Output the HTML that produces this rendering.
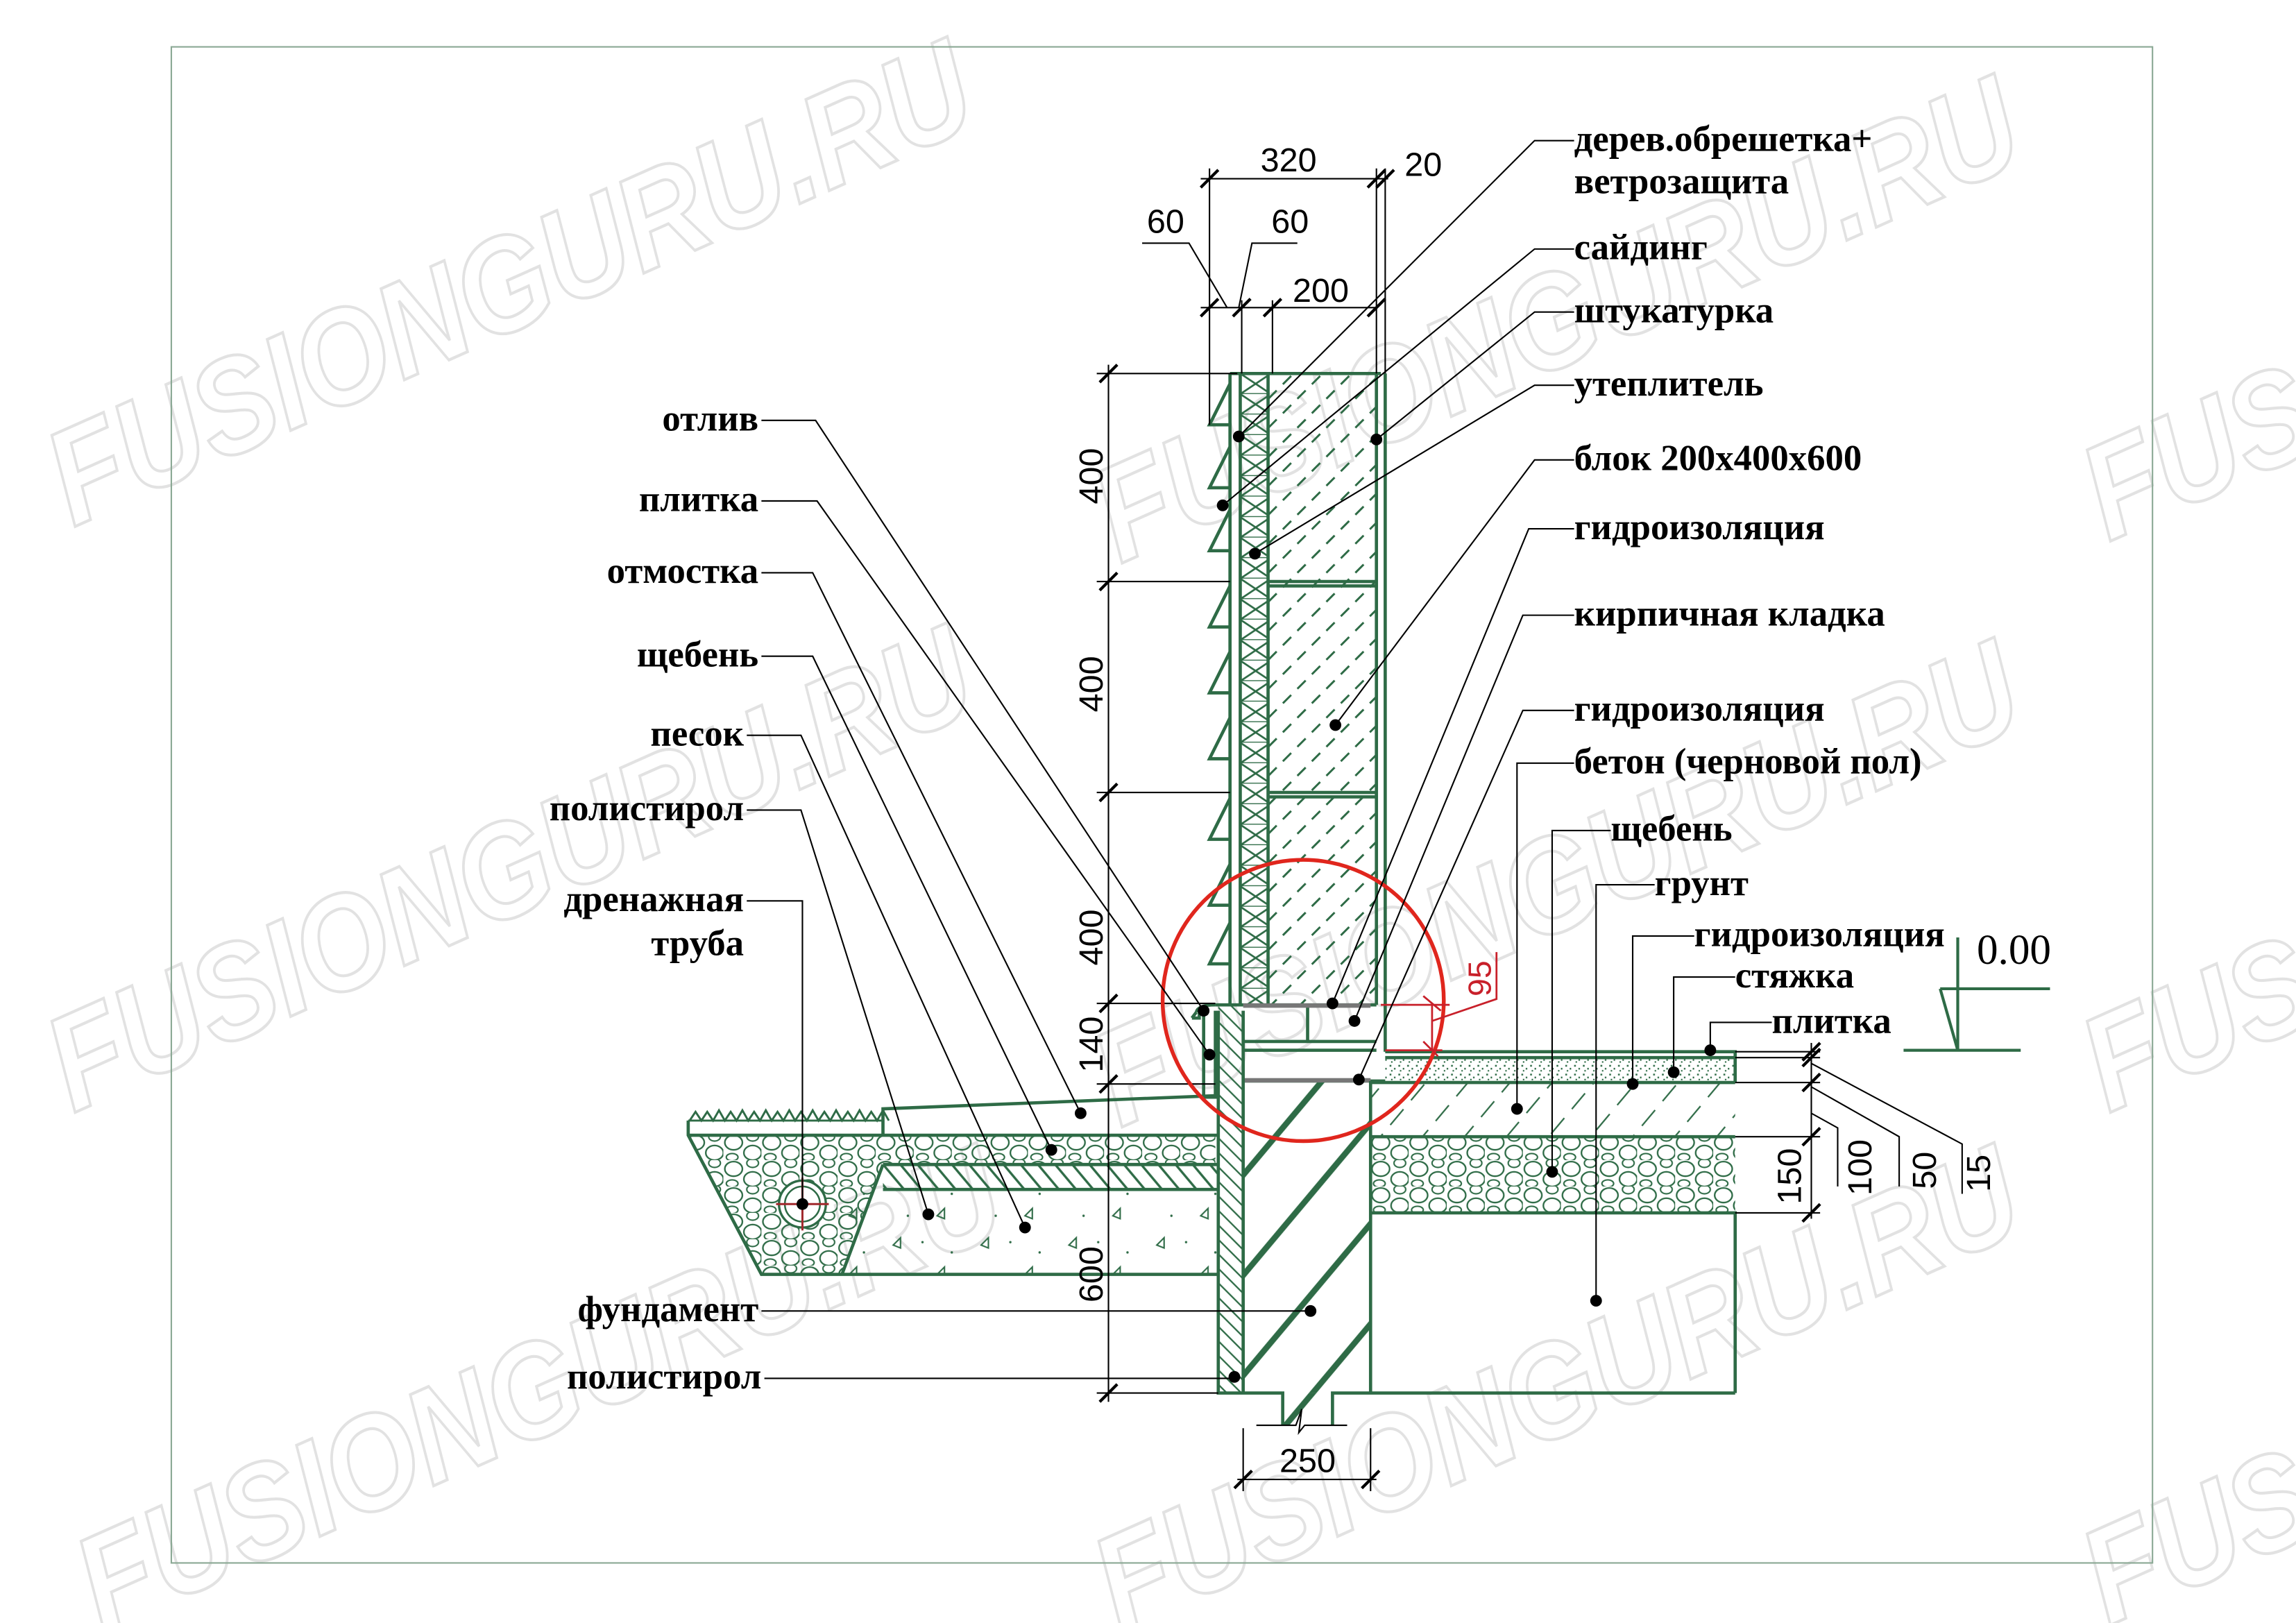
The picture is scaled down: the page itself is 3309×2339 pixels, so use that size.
<!DOCTYPE html>
<html><head><meta charset="utf-8"><style>
html,body{margin:0;padding:0;background:#fff;}
svg{display:block;}
.lb{font-family:"Liberation Serif","Noto Serif CJK SC",serif;font-size:25px;font-weight:bold;fill:#000;}
.dm{font-family:"Liberation Sans",sans-serif;font-size:23px;fill:#000;}
.wm{font-family:"Liberation Sans",sans-serif;font-size:92px;font-weight:bold;font-style:italic;fill:#fff;stroke:#e2e2e2;stroke-width:2;}
.g{stroke:#2e6b46;fill:none;stroke-width:2.2;}
.k{stroke:#000;fill:none;stroke-width:1;}
</style></head><body>
<svg width="3309" height="2339" viewBox="0 0 1568 1108" preserveAspectRatio="none" xmlns="http://www.w3.org/2000/svg">
<defs>
<pattern id="blk" width="14" height="14" patternUnits="userSpaceOnUse" patternTransform="rotate(-45)">
<line x1="0" y1="7" x2="8" y2="7" stroke="#2e6b46" stroke-width="1.4"/>
</pattern>
<pattern id="ins" width="21" height="14" patternUnits="userSpaceOnUse" x="847" y="255">
<path d="M0 0L21 14M21 0L0 14M0 14H21" stroke="#2e6b46" stroke-width="1.3" fill="none"/>
</pattern>
<pattern id="fnd" width="44" height="44" patternUnits="userSpaceOnUse" patternTransform="rotate(-50)">
<line x1="0" y1="22" x2="44" y2="22" stroke="#2e6b46" stroke-width="4"/>
</pattern>
<pattern id="pst" width="7" height="7" patternUnits="userSpaceOnUse" patternTransform="rotate(45)">
<line x1="0" y1="3" x2="7" y2="3" stroke="#2e6b46" stroke-width="1.1"/>
</pattern>
<pattern id="pst2" width="9" height="9" patternUnits="userSpaceOnUse" patternTransform="rotate(50)">
<line x1="0" y1="4" x2="9" y2="4" stroke="#2e6b46" stroke-width="1.6"/>
</pattern>
<pattern id="con" width="22" height="22" patternUnits="userSpaceOnUse" patternTransform="rotate(-50)">
<line x1="0" y1="11" x2="14" y2="11" stroke="#2e6b46" stroke-width="1.1"/>
</pattern>
<pattern id="grv" width="26" height="18" patternUnits="userSpaceOnUse">
<ellipse cx="7" cy="6" rx="6" ry="5" fill="none" stroke="#2e6b46" stroke-width="1.1"/>
<ellipse cx="20" cy="13" rx="6" ry="5" fill="none" stroke="#2e6b46" stroke-width="1.1"/>
<ellipse cx="20" cy="2" rx="4" ry="3" fill="none" stroke="#2e6b46" stroke-width="1"/>
<ellipse cx="6" cy="16" rx="4" ry="2.5" fill="none" stroke="#2e6b46" stroke-width="1"/>
</pattern>
<pattern id="scr" width="6" height="6" patternUnits="userSpaceOnUse">
<rect x="1" y="1" width="1.2" height="1.2" fill="#2e6b46"/><rect x="4" y="3" width="1" height="1.2" fill="#2e6b46"/><rect x="2" y="4.5" width="1" height="1" fill="#2e6b46"/>
</pattern>
<pattern id="snd" width="60" height="40" patternUnits="userSpaceOnUse">
<path d="M10 10l5 -5v7z M40 30l5 -5v7z" fill="none" stroke="#2e6b46" stroke-width="1"/>
<circle cx="30" cy="8" r=".8" fill="#2e6b46"/><circle cx="50" cy="15" r=".8" fill="#2e6b46"/><circle cx="20" cy="30" r=".8" fill="#2e6b46"/>
</pattern>
</defs>
<rect width="1568" height="1108" fill="#fff"/>

<g class="wm">
<text transform="translate(50,360) rotate(-24)" textLength="680" lengthAdjust="spacingAndGlyphs">FUSIONGURU.RU</text>
<text transform="translate(765,385) rotate(-24)" textLength="680" lengthAdjust="spacingAndGlyphs">FUSIONGURU.RU</text>
<text transform="translate(50,760) rotate(-24)" textLength="680" lengthAdjust="spacingAndGlyphs">FUSIONGURU.RU</text>
<text transform="translate(765,770) rotate(-24)" textLength="680" lengthAdjust="spacingAndGlyphs">FUSIONGURU.RU</text>
<text transform="translate(70,1115) rotate(-24)" textLength="680" lengthAdjust="spacingAndGlyphs">FUSIONGURU.RU</text>
<text transform="translate(765,1115) rotate(-24)" textLength="680" lengthAdjust="spacingAndGlyphs">FUSIONGURU.RU</text>
<text transform="translate(1440,370) rotate(-24)" textLength="680" lengthAdjust="spacingAndGlyphs">FUSIONGURU.RU</text>
<text transform="translate(1440,760) rotate(-24)" textLength="680" lengthAdjust="spacingAndGlyphs">FUSIONGURU.RU</text>
<text transform="translate(1440,1110) rotate(-24)" textLength="680" lengthAdjust="spacingAndGlyphs">FUSIONGURU.RU</text>
</g>

<rect x="117" y="32" width="1353" height="1035" fill="none" stroke="#8aa894" stroke-width="1"/>

<rect x="866" y="255" width="74" height="431" fill="url(#blk)"/>
<rect x="847" y="255" width="19" height="431" fill="url(#ins)"/>
<g class="g">
<path d="M840 255H943M847 255V686M866 255V686M940 255V686M946 255V718M840 255V686"/>
<path d="M866 397H940M866 400H940M866 541H940M866 544H940"/>
<path d="M840 262L826 290H840M840 305L826 333H840M840 348L826 376H840M840 400L826 428H840M840 445L826 473H840M840 490L826 518H840M840 545L826 573H840M840 590L826 618H840M840 630L826 658H840"/>
</g>
<g class="g">
<path d="M849 686H940M849 711H940M849 717H940M849 738H946M893 686V711"/>
<path d="M830 686H849" />
<path d="M817 691Q818 686 830 686M814 695H819V690M817 691L814 695M822 690V749H830V690"/>
</g>
<rect x="849" y="736" width="87" height="3" fill="#777"/>
<rect x="849" y="685" width="87" height="3" fill="#777"/>

<rect x="849" y="739" width="87" height="212" fill="url(#fnd)"/>
<rect x="876" y="951" width="34" height="22" fill="url(#fnd)"/>
<rect x="832" y="739" width="17" height="212" fill="url(#pst)"/>
<rect x="832" y="686" width="17" height="53" fill="url(#pst)"/>
<g class="g">
<path d="M832 690V951H876V973M910 973V951H1185M849 690V951M936 738V951"/>
</g>
<path d="M858 973H885L889 962L887 978L891 973H920" class="k"/>

<rect x="946" y="723" width="239" height="16" fill="url(#scr)"/>
<rect x="936" y="739" width="249" height="37" fill="url(#con)"/>
<rect x="936" y="776" width="249" height="52" fill="url(#grv)"/>
<g class="g">
<path d="M946 718H1185V739M946 722H1185M936 739H1185M936 776H1185M936 828H1185V951"/>
</g>

<path d="M470 775L520 870H575L603 795H830V775Z" fill="url(#grv)"/>
<rect x="603" y="795" width="229" height="17" fill="url(#pst2)"/>
<rect x="575" y="812" width="257" height="58" fill="url(#snd)"/>
<g class="g">
<path d="M470 765V775L520 870H832M470 775H832M603 795H832M603 812H832M603 795L575 870M603 775V757L830 748"/>
<path d="M470 765H603M471 765l4-6l4 6l4-6l4 6l4-7l4 7l4-6l4 6l4-7l4 7l4-6l4 6l4-7l4 7l4-6l4 6l4-7l4 7l4-6l4 6l4-7l4 7l4-6l4 6l4-7l4 7l4-6l4 6l4-7l4 7l4-6l4 6l4-7l4 7" stroke-width="1.4"/>
</g>
<circle cx="548" cy="822" r="16" fill="#fff" stroke="#2e6b46" stroke-width="1.6"/>
<circle cx="548" cy="822" r="12" fill="none" stroke="#2e6b46" stroke-width="1.2"/>
<path d="M530 822H566M548 804V840" stroke="#a0282c" stroke-width="1.4"/>

<g class="k">
<path d="M757 249V957"/>
<path d="M749 255H845M749 397H840M749 541H840M749 685H830M749 740H830M749 951H832M757 684V690"/>
<path d="M751 261l12 -12M751 403l12 -12M751 547l12 -12M751 691l12 -12M751 746l12 -12M751 957l12 -12" stroke-width="2"/>
</g>
<g class="dm">
<text transform="translate(753,325) rotate(-90)" text-anchor="middle">400</text>
<text transform="translate(753,467) rotate(-90)" text-anchor="middle">400</text>
<text transform="translate(753,640) rotate(-90)" text-anchor="middle">400</text>
<text transform="translate(753,713) rotate(-90)" text-anchor="middle">140</text>
<text transform="translate(753,870) rotate(-90)" text-anchor="middle">600</text>
</g>

<g class="k">
<path d="M826 115V290M940 115V255M946 115V255M820 122H948M848 205V255M869 205V255M780 166H812L838 210M820 210H940M846 210L855 166H886"/>
<path d="M820 128l12 -12M934 128l12 -12M940 128l12 -12M820 216l12 -12M842 216l12 -12M863 216l12 -12M934 216l12 -12" stroke-width="2"/>
</g>
<g class="dm">
<text x="880" y="117" text-anchor="middle">320</text>
<text x="972" y="120" text-anchor="middle">20</text>
<text x="796" y="159" text-anchor="middle">60</text>
<text x="881" y="159" text-anchor="middle">60</text>
<text x="902" y="206" text-anchor="middle">200</text>
</g>

<g class="k">
<path d="M849 975V1018M936 975V1018M845 1010H940"/>
<path d="M843 1016l12 -12M930 1016l12 -12" stroke-width="2"/>
</g>
<text x="893" y="1005" class="dm" text-anchor="middle">250</text>

<g class="k">
<path d="M1185 718H1243M1185 722H1243M1185 739H1243M1185 776H1243M1185 828H1243M1237 712V832"/>
<path d="M1231 724l12 -12M1231 728l12 -12M1231 745l12 -12M1231 782l12 -12M1231 834l12 -12" stroke-width="2"/>
<path d="M1237 760L1255 770V810M1237 742L1297 776V810M1237 726L1340 781V815"/>
</g>
<g class="dm">
<text transform="translate(1230,803) rotate(-90)" text-anchor="middle">150</text>
<text transform="translate(1278,797) rotate(-90)" text-anchor="middle">100</text>
<text transform="translate(1322,799) rotate(-90)" text-anchor="middle">50</text>
<text transform="translate(1359,801) rotate(-90)" text-anchor="middle">15</text>
</g>

<g stroke="#2e6b46" fill="none" stroke-width="2">
<path d="M1337 640V717M1325 675H1400M1325 675L1337 717M1300 717H1380" />
</g>
<text x="1350" y="658" style="font-family:'Liberation Serif',serif;font-size:29px;">0.00</text>

<circle cx="890" cy="683" r="96" fill="none" stroke="#e0261d" stroke-width="2.6"/>
<g stroke="#c8202a" fill="none" stroke-width="1.3">
<path d="M943 686H990M978 686V717M946 717H985M978 697L1022 682V650M972 680l12 10M972 711l10 10"/>
</g>
<text transform="translate(1018,668) rotate(-90)" text-anchor="middle" style="font-family:'Liberation Sans',sans-serif;font-size:22px;fill:#c8202a;">95</text>

<g class="lb" text-anchor="end">
<text x="518" y="294">отлив</text>
<text x="518" y="349">плитка</text>
<text x="518" y="398">отмостка</text>
<text x="518" y="455">щебень</text>
<text x="508" y="509">песок</text>
<text x="508" y="560">полистирол</text>
<text x="508" y="622">дренажная</text>
<text x="508" y="652">труба</text>
<text x="518" y="902">фундамент</text>
<text x="520" y="948">полистирол</text>
</g>
<g class="k">
<path d="M520 287H557L822 690M520 342H558L826 720M520 391H555L738 760M520 448H555L718 785M510 502H547L700 838M510 553H547L634 829M510 615H548V822M520 895H895M522 941H843"/>
</g>
<g fill="#000">
<circle cx="822" cy="690" r="4"/><circle cx="826" cy="720" r="4"/><circle cx="738" cy="760" r="4"/><circle cx="718" cy="785" r="4"/><circle cx="700" cy="838" r="4"/><circle cx="634" cy="829" r="4"/><circle cx="548" cy="822" r="4"/><circle cx="895" cy="895" r="4"/><circle cx="843" cy="940" r="4"/>
</g>

<g class="lb">
<text x="1075" y="103">дерев.обрешетка+</text>
<text x="1075" y="132">ветрозащита</text>
<text x="1075" y="177">сайдинг</text>
<text x="1075" y="220">штукатурка</text>
<text x="1075" y="270">утеплитель</text>
<text x="1075" y="321">блок 200х400х600</text>
<text x="1075" y="368">гидроизоляция</text>
<text x="1075" y="427">кирпичная кладка</text>
<text x="1075" y="492">гидроизоляция</text>
<text x="1075" y="528">бетон (черновой пол)</text>
<text x="1100" y="574">щебень</text>
<text x="1130" y="611">грунт</text>
<text x="1157" y="646">гидроизоляция</text>
<text x="1185" y="674">стяжка</text>
<text x="1210" y="705">плитка</text>
</g>
<g class="k">
<path d="M1075 96H1048L846 298M1075 170H1048L835 345M1075 213H1048L940 300M1075 263H1048L857 378M1075 314H1048L912 495M1075 361H1044L910 685M1075 420H1040L925 697M1075 485H1040L928 737"/>
<path d="M1075 521H1036V757M1100 567H1060V800M1130 604H1090V888M1157 639H1115V740M1185 667H1143V732M1210 698H1168V717"/>
</g>
<g fill="#000">
<circle cx="846" cy="298" r="4"/><circle cx="835" cy="345" r="4"/><circle cx="940" cy="300" r="4"/><circle cx="857" cy="378" r="4"/><circle cx="912" cy="495" r="4"/><circle cx="910" cy="685" r="4"/><circle cx="925" cy="697" r="4"/><circle cx="928" cy="737" r="4"/><circle cx="1036" cy="757" r="4"/><circle cx="1060" cy="800" r="4"/><circle cx="1090" cy="888" r="4"/><circle cx="1115" cy="740" r="4"/><circle cx="1143" cy="732" r="4"/><circle cx="1168" cy="717" r="4"/>
</g>
</svg>
</body></html>
